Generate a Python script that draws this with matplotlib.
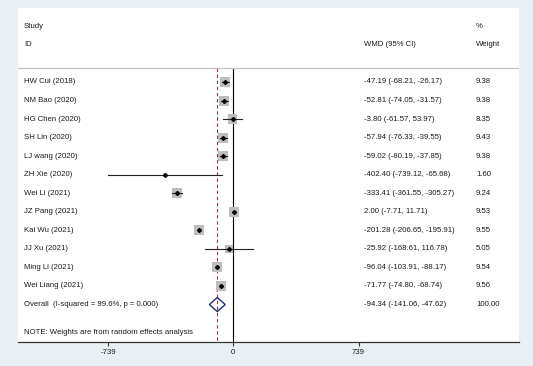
import numpy as np
import matplotlib.pyplot as plt
from matplotlib.patches import Polygon
import matplotlib.transforms as mtransforms

plt.rcParams['font.family'] = ['Liberation Sans', 'DejaVu Sans']

#------------------------------------------------------------------------------
# DATA
#------------------------------------------------------------------------------

studies = ['HW Cui (2018)', 'NM Bao (2020)', 'HG Chen (2020)', 'SH Lin (2020)',
           'LJ wang (2020)', 'ZH Xie (2020)', 'Wei Li (2021)', 'JZ Pang (2021)',
           'Kai Wu (2021)', 'JJ Xu (2021)', 'Ming Li (2021)', 'Wei Liang (2021)']
wmd = [-47.19, -52.81, -3.80, -57.94, -59.02, -402.40, -333.41, 2.00,
       -201.28, -25.92, -96.04, -71.77]
ci_lo = [-68.21, -74.05, -61.57, -76.33, -80.19, -739.12, -361.55, -7.71,
         -206.65, -168.61, -103.91, -74.80]
ci_hi = [-26.17, -31.57, 53.97, -39.55, -37.85, -65.68, -305.27, 11.71,
         -195.91, 116.78, -88.17, -68.74]
weights = [9.38, 9.38, 8.35, 9.43, 9.38, 1.60, 9.24, 9.53, 9.55, 5.05, 9.54, 9.56]

overall_label = 'Overall  (I-squared = 99.6%, p = 0.000)'
overall_est = -94.34
overall_lo = -141.06
overall_hi = -47.62
overall_weight = 100.00

xticks = [-739, 0, 739]
note = 'NOTE: Weights are from random effects analysis'

#------------------------------------------------------------------------------
# FIGURE
#------------------------------------------------------------------------------

bg = '#e9f0f4'
txt = '#1a1a1a'
fs = 5.6

fig = plt.figure(figsize=(5.33, 3.66), dpi=100, facecolor=bg)
W, H = 533.0, 366.0
ax = fig.add_axes([18 / W, (H - 342) / H, 501 / W, 334 / H])
ax.set_facecolor('white')

ax.set_xlim(-1270, 1685.5)
ax.set_ylim(14.02, -3.99)

n = len(studies)
rows = np.arange(n)
trans = mtransforms.blended_transform_factory(ax.transAxes, ax.transData)

# header
ax.text(0.012, -3, 'Study', transform=trans, fontsize=fs, color=txt, va='center')
ax.text(0.012, -2, 'ID', transform=trans, fontsize=fs, color=txt, va='center')
ax.text(0.691, -2, 'WMD (95% CI)', transform=trans, fontsize=fs, color=txt, va='center')
ax.text(0.914, -3, '%', transform=trans, fontsize=fs, color=txt, va='center')
ax.text(0.914, -2, 'Weight', transform=trans, fontsize=fs, color=txt, va='center')
ax.plot([0, 1], [-0.75, -0.75], transform=trans, color='#c4c4c4', lw=0.9)

# reference lines
ax.plot([0, 0], [-0.75, 14.02], color='black', lw=0.8, zorder=1)
ax.plot([overall_est, overall_est], [-0.75, 14.02], color='#a0302c', lw=0.8,
        ls=(0, (3, 2.5)), zorder=1)

# studies
box_area = 52.0 / 9.38
ax.scatter(wmd, rows, s=np.array(weights) * box_area, marker='s',
           color='#bdbdbd', edgecolors='none', zorder=2)
for i in range(n):
    ax.plot([ci_lo[i], ci_hi[i]], [i, i], color='#222222', lw=0.8, zorder=3)
    ax.text(0.012, i, studies[i], transform=trans, fontsize=fs, color=txt, va='center')
    ax.text(0.691, i, '%.2f (%.2f, %.2f)' % (wmd[i], ci_lo[i], ci_hi[i]),
            transform=trans, fontsize=fs, color=txt, va='center')
    ax.text(0.914, i, '%.2f' % weights[i], transform=trans, fontsize=fs,
            color=txt, va='center')
ax.plot(wmd, rows, 'D', color='black', markersize=2.0, zorder=4)

# overall
yo = n
h = 0.38
diamond = Polygon([[overall_lo, yo], [overall_est, yo - h], [overall_hi, yo],
                   [overall_est, yo + h]], closed=True, fill=False,
                  edgecolor='#1c2a80', lw=1.0, zorder=4)
ax.add_patch(diamond)
ax.text(0.012, yo, overall_label, transform=trans, fontsize=fs, color=txt, va='center')
ax.text(0.691, yo, '%.2f (%.2f, %.2f)' % (overall_est, overall_lo, overall_hi),
        transform=trans, fontsize=fs, color=txt, va='center')
ax.text(0.914, yo, '%.2f' % overall_weight, transform=trans, fontsize=fs,
        color=txt, va='center')

ax.text(0.012, 13.52, note, transform=trans, fontsize=fs, color=txt, va='center')

# axes
for side in ['top', 'right', 'left']:
    ax.spines[side].set_visible(False)
ax.spines['bottom'].set_color('#333333')
ax.spines['bottom'].set_linewidth(0.9)
ax.set_yticks([])
ax.set_xticks(xticks)
ax.set_xticklabels([str(t) for t in xticks])
ax.tick_params(axis='x', direction='out', length=3, width=0.8, color='#333333',
               labelsize=fs, labelcolor=txt, pad=2)

fig.savefig('out.png', dpi=100, facecolor=bg)
